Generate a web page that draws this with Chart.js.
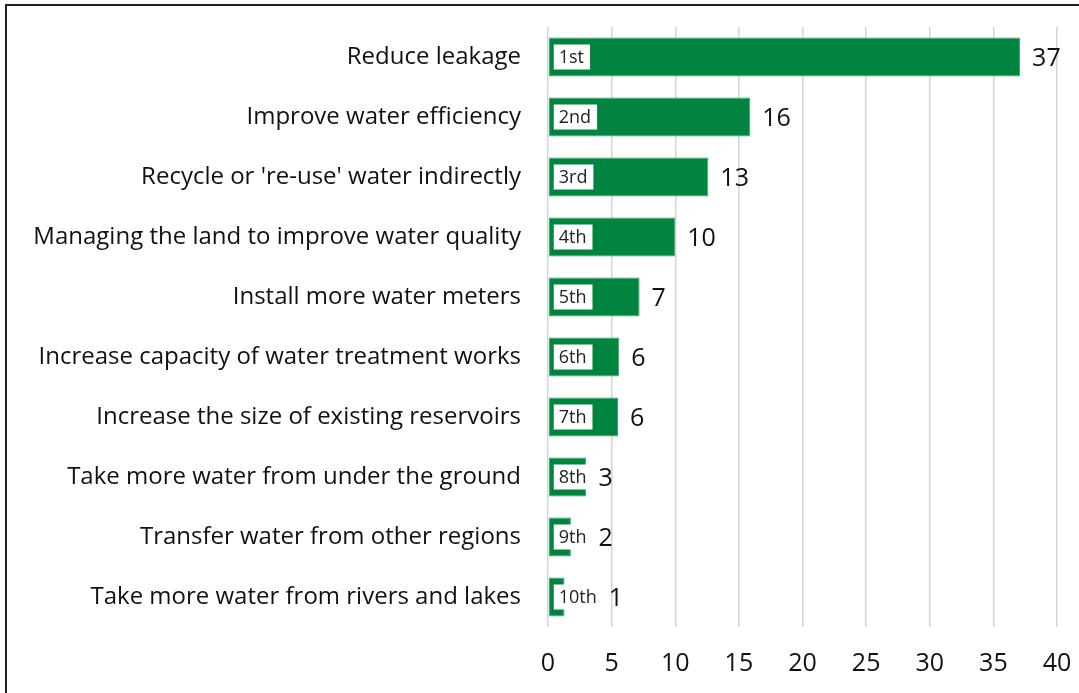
<!DOCTYPE html>
<html>
<head>
<meta charset="utf-8">
<script src="https://cdn.jsdelivr.net/npm/chart.js@4"></script>
<style>
  html, body { margin: 0; padding: 0; background: #fff; }
  #wrap { position: relative; width: 1079px; height: 693px; }
</style>
</head>
<body>
<div id="wrap"><canvas id="myChart"></canvas></div>
<script>
// options, in rank order
var options = [
    'Reduce leakage',
    'Improve water efficiency',
    "Recycle or 're-use' water indirectly",
    'Managing the land to improve water quality',
    'Install more water meters',
    'Increase capacity of water treatment works',
    'Increase the size of existing reservoirs',
    'Take more water from under the ground',
    'Transfer water from other regions',
    'Take more water from rivers and lakes'
];
var ranks = ['1st', '2nd', '3rd', '4th', '5th', '6th', '7th', '8th', '9th', '10th'];
var percentages = [37.1, 15.9, 12.6, 10.0, 7.2, 5.6, 5.5, 3.0, 1.8, 1.3];
var xTicks = [0, 5, 10, 15, 20, 25, 30, 35, 40];

var green = '#00843f';
var fontFamily = '"Open Sans", "Noto Sans", sans-serif';

// white background + frame lines (top and left visible)
var framePlugin = {
    id: 'frame',
    beforeDraw: function (chart) {
        var ctx = chart.ctx;
        ctx.save();
        ctx.fillStyle = '#fff';
        ctx.fillRect(0, 0, chart.width, chart.height);
        ctx.strokeStyle = '#1e1e1e';
        ctx.lineWidth = 2;
        ctx.beginPath();
        ctx.moveTo(6, chart.height);
        ctx.lineTo(6, 5);
        ctx.lineTo(chart.width, 5);
        ctx.stroke();
        ctx.restore();
    }
};

// rank boxes inside the bars and value labels at the end
var labelPlugin = {
    id: 'barLabels',
    afterDatasetsDraw: function (chart) {
        var ctx = chart.ctx;
        var meta = chart.getDatasetMeta(0);
        ctx.save();
        meta.data.forEach(function (bar, i) {
            var y = bar.y;
            var h = bar.height;
            // rank box
            ctx.font = '18px ' + fontFamily;
            var tw = ctx.measureText(ranks[i]).width;
            var bx = bar.base + 5;
            var bh = h - 14;
            var bw = tw + 11;
            ctx.fillStyle = '#fff';
            ctx.fillRect(bx, y - bh / 2, bw, bh);
            ctx.fillStyle = '#222';
            ctx.textBaseline = 'middle';
            ctx.textAlign = 'left';
            ctx.fillText(ranks[i], bx + 5, y + 1);
            // value label, kept clear of the rank box
            var lx = Math.max(bar.x + 12, bx + bw + 6);
            ctx.font = '25px ' + fontFamily;
            ctx.fillStyle = '#111';
            ctx.fillText(Math.round(percentages[i]), lx, y + 2);
        });
        ctx.restore();
    }
};

var ctx = document.getElementById('myChart').getContext('2d');
var myChart = new Chart(ctx, {
    type: 'bar',
    data: {
        labels: options,
        datasets: [{
            data: percentages,
            backgroundColor: green,
            borderColor: '#3aa56a',
            borderWidth: 1,
            borderSkipped: false,
            barPercentage: 0.65,
            categoryPercentage: 1.0
        }]
    },
    options: {
        indexAxis: 'y',
        responsive: true,
        maintainAspectRatio: false,
        animation: false,
        layout: { padding: { top: 27, right: 22, left: 0, bottom: 0 } },
        plugins: {
            legend: { display: false },
            tooltip: { enabled: false }
        },
        scales: {
            x: {
                min: 0,
                max: 40,
                afterBuildTicks: function (scale) {
                    scale.ticks = xTicks.map(function (v) { return { value: v }; });
                },
                afterFit: function (scale) {
                    scale.height = 66;
                    scale.paddingLeft = 0;
                    scale.paddingRight = 0;
                },
                grid: { color: '#d4d4d4', lineWidth: 1.5, drawTicks: false },
                border: { display: false },
                ticks: {
                    padding: 22,
                    color: '#111',
                    font: { family: fontFamily, size: 25 }
                }
            },
            y: {
                afterFit: function (scale) {
                    scale.width = 548;
                    scale.paddingTop = 0;
                    scale.paddingBottom = 0;
                },
                grid: { display: false, drawTicks: false },
                border: { display: false },
                ticks: {
                    padding: 27,
                    color: '#111',
                    font: { family: fontFamily, size: 24 }
                }
            }
        }
    },
    plugins: [framePlugin, labelPlugin]
});
</script>
</body>
</html>
